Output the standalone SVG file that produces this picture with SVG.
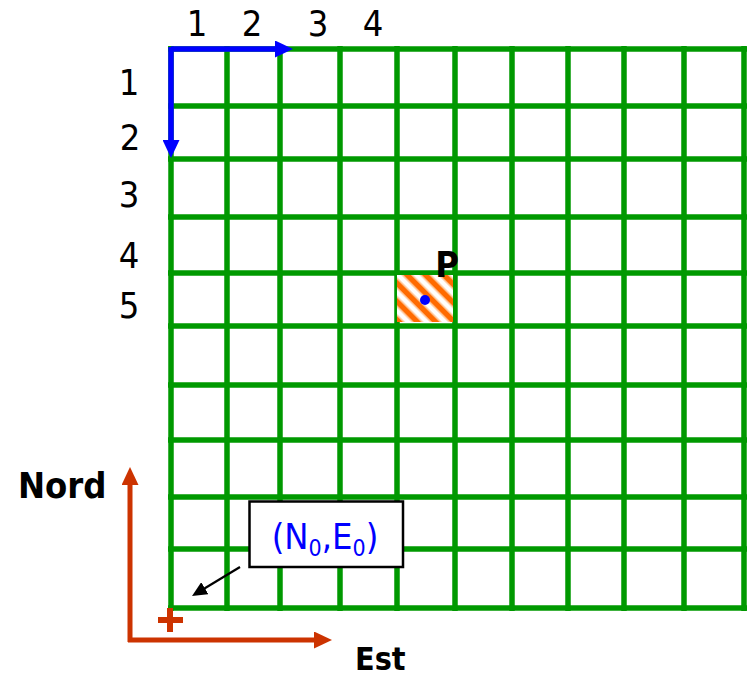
<svg xmlns="http://www.w3.org/2000/svg" width="747" height="677" viewBox="0 0 747 677">
<style>
.grid line{stroke:#009900;stroke-width:5.5}
.lbl{font-family:"DejaVu Sans Condensed","DejaVu Sans",sans-serif;font-size:36px;fill:#000}
.bold{font-family:"DejaVu Sans Condensed","DejaVu Sans",sans-serif;font-weight:bold;fill:#000}
.blue{stroke:#0000FF;stroke-width:5.5;fill:none}
.red{stroke:#CC3300;stroke-width:5;fill:none}
.blk{stroke:#000;stroke-width:2.2;fill:none}
</style>
<defs>
<marker id="ab" markerUnits="userSpaceOnUse" markerWidth="18" markerHeight="17" refX="1" refY="8.5" orient="auto"><path d="M0,0 L18,8.5 L0,17 z" fill="#0000FF"/></marker>
<marker id="ar" markerUnits="userSpaceOnUse" markerWidth="18" markerHeight="17" refX="1" refY="8.5" orient="auto"><path d="M0,0 L18,8.5 L0,17 z" fill="#CC3300"/></marker>
<marker id="ak" markerUnits="userSpaceOnUse" markerWidth="15" markerHeight="14" refX="1" refY="7" orient="auto"><path d="M0,0 L15,7 L0,14 z" fill="#000"/></marker>
<pattern id="hatch" patternUnits="userSpaceOnUse" width="13" height="13" patternTransform="rotate(-45)">
<rect x="0" y="0" width="13" height="13" fill="#fff"/>
<rect x="0" y="0" width="5" height="13" fill="#FF6A00"/>
<rect x="5" y="0" width="1.5" height="13" fill="#FFB880"/>
<rect x="11.5" y="0" width="1.5" height="13" fill="#FFB880"/>
</pattern>
</defs>
<g id="grid" class="grid">
<line x1="171" y1="46" x2="171" y2="611"/>
<line x1="227" y1="46" x2="227" y2="611"/>
<line x1="280" y1="46" x2="280" y2="611"/>
<line x1="340" y1="46" x2="340" y2="611"/>
<line x1="397" y1="46" x2="397" y2="611"/>
<line x1="455" y1="46" x2="455" y2="611"/>
<line x1="512" y1="46" x2="512" y2="611"/>
<line x1="568" y1="46" x2="568" y2="611"/>
<line x1="624" y1="46" x2="624" y2="611"/>
<line x1="684" y1="46" x2="684" y2="611"/>
<line x1="744" y1="46" x2="744" y2="611"/>
<line x1="168" y1="49" x2="747" y2="49"/>
<line x1="168" y1="106" x2="747" y2="106"/>
<line x1="168" y1="159" x2="747" y2="159"/>
<line x1="168" y1="217" x2="747" y2="217"/>
<line x1="168" y1="273" x2="747" y2="273"/>
<line x1="168" y1="326" x2="747" y2="326"/>
<line x1="168" y1="385" x2="747" y2="385"/>
<line x1="168" y1="440" x2="747" y2="440"/>
<line x1="168" y1="497" x2="747" y2="497"/>
<line x1="168" y1="549" x2="747" y2="549"/>
<line x1="168" y1="608" x2="747" y2="608"/>
</g>
<g id="cellP">
<rect x="397" y="275" width="56" height="47" fill="url(#hatch)"/>
<circle cx="425" cy="300" r="5" fill="#0000FF"/>
<text class="bold" x="447" y="277" font-size="36" text-anchor="middle">P</text>
</g>
<g id="colLabels" class="lbl" text-anchor="middle">
<text x="197" y="36">1</text>
<text x="252" y="36">2</text>
<text x="318" y="36">3</text>
<text x="373" y="36">4</text>
</g>
<g id="rowLabels" class="lbl" text-anchor="middle">
<text x="129" y="95">1</text>
<text x="130" y="150">2</text>
<text x="129" y="207">3</text>
<text x="129" y="268">4</text>
<text x="129" y="318">5</text>
</g>
<g id="connectors">
<line class="blue" x1="171" y1="49" x2="276" y2="49" marker-end="url(#ab)"/>
<line class="blue" x1="171" y1="47" x2="171" y2="141" marker-end="url(#ab)"/>
<line class="red" x1="130" y1="642" x2="130" y2="484" marker-end="url(#ar)"/>
<line class="red" x1="128" y1="640" x2="315" y2="640" marker-end="url(#ar)"/>
<line class="blk" x1="240" y1="567" x2="204" y2="588.7" marker-end="url(#ak)"/>
</g>
<g id="origin">
<path d="M158,620 H183 M170,608 V632" stroke="#CC3300" stroke-width="6" fill="none"/>
</g>
<g id="box">
<rect x="249.5" y="501.5" width="153.5" height="65.5" fill="#fff" stroke="#000" stroke-width="2.5"/>
<text x="325" y="549" text-anchor="middle" font-family="DejaVu Sans Condensed, DejaVu Sans, sans-serif" font-size="36" fill="#0000FF">(N<tspan font-size="23" dy="7">0</tspan><tspan dy="-7">,E</tspan><tspan font-size="23" dy="7">0</tspan><tspan dy="-7">)</tspan></text>
</g>
<g id="axisLabels">
<text class="bold" x="18" y="498" font-size="36">Nord</text>
<text class="bold" x="355" y="670" font-size="32">Est</text>
</g>
</svg>
